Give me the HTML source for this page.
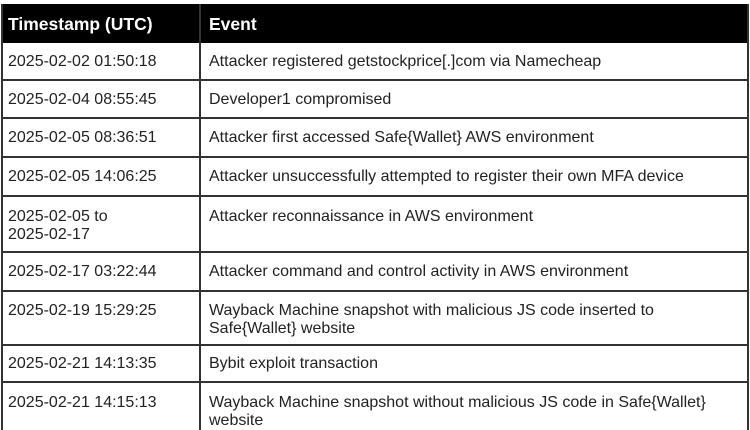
<!DOCTYPE html>
<html><head><style>
html,body{margin:0;padding:0;background:#fff;width:750px;height:430px;overflow:hidden}
body{position:relative;font-family:"Liberation Sans",Arial,sans-serif;color:#222}
.h{position:absolute;left:2px;top:4px;width:746px;height:39px;background:#000}
.ht{position:absolute;color:#fff;font-weight:bold;font-size:17.5px;top:13px;line-height:22px}
.hl{position:absolute;left:2px;width:746px;height:2px;background:#333}
.vl{position:absolute;top:4px;width:2px;height:430px;background:#333}
.t{position:absolute;font-size:16px;line-height:18px}
</style></head><body>
<div class="h"></div>
<div class="ht" style="left:8px">Timestamp (UTC)</div>
<div class="ht" style="left:209px">Event</div>
<div class="vl" style="left:1px"></div>
<div class="vl" style="left:199px"></div>
<div class="vl" style="left:747px"></div>
<div class="hl" style="top:79px"></div>
<div class="hl" style="top:117px"></div>
<div class="hl" style="top:156px"></div>
<div class="hl" style="top:195px"></div>
<div class="hl" style="top:251px"></div>
<div class="hl" style="top:290px"></div>
<div class="hl" style="top:344px"></div>
<div class="hl" style="top:381px"></div>

<div class="t" style="left:8px;top:53px">2025-02-02 01:50:18</div>
<div class="t" style="left:209px;top:53px">Attacker registered getstockprice[.]com via Namecheap</div>
<div class="t" style="left:8px;top:91px">2025-02-04 08:55:45</div>
<div class="t" style="left:209px;top:91px">Developer1 compromised</div>
<div class="t" style="left:8px;top:129px">2025-02-05 08:36:51</div>
<div class="t" style="left:209px;top:129px">Attacker first accessed Safe{Wallet} AWS environment</div>
<div class="t" style="left:8px;top:168px">2025-02-05 14:06:25</div>
<div class="t" style="left:209px;top:168px">Attacker unsuccessfully attempted to register their own MFA device</div>
<div class="t" style="left:8px;top:208px">2025-02-05 to<br>2025-02-17</div>
<div class="t" style="left:209px;top:208px">Attacker reconnaissance in AWS environment</div>
<div class="t" style="left:8px;top:263px">2025-02-17 03:22:44</div>
<div class="t" style="left:209px;top:263px">Attacker command and control activity in AWS environment</div>
<div class="t" style="left:8px;top:302px">2025-02-19 15:29:25</div>
<div class="t" style="left:209px;top:302px">Wayback Machine snapshot with malicious JS code inserted to<br>Safe{Wallet} website</div>
<div class="t" style="left:8px;top:355px">2025-02-21 14:13:35</div>
<div class="t" style="left:209px;top:355px">Bybit exploit transaction</div>
<div class="t" style="left:8px;top:394px">2025-02-21 14:15:13</div>
<div class="t" style="left:209px;top:394px">Wayback Machine snapshot without malicious JS code in Safe{Wallet}<br>website</div>
</body></html>
